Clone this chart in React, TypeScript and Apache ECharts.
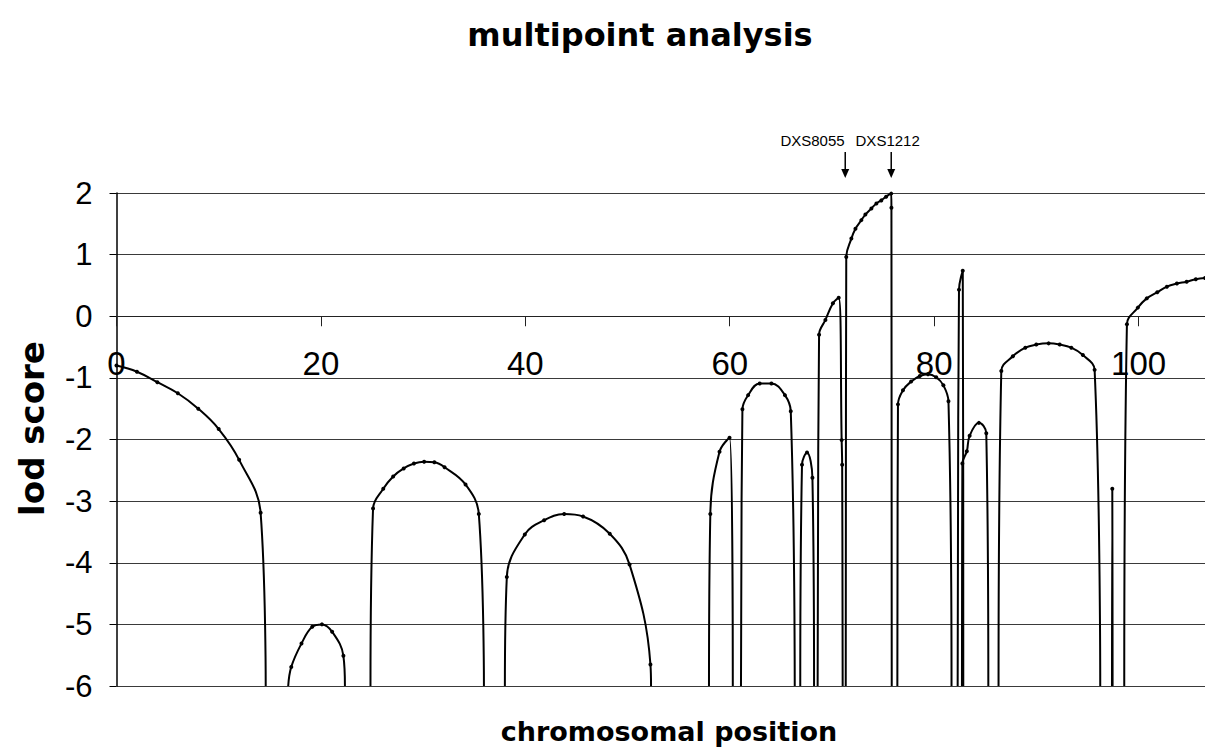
import React, { useEffect, useRef } from "react";
import * as echarts from "echarts";

// LOD of -infinity is drawn at the floor of the axis
const FLOOR = -6;

// chromosomal position (cM) / lod score, one list per continuous arc
const arc1 = [[0, -0.8], [2, -0.9], [4, -1.07], [6, -1.25], [8, -1.5], [10, -1.83], [12, -2.33], [14.1, -3.19], [14.6, FLOOR]];
const arc2 = [[16.8, FLOOR], [17.1, -5.69], [18.1, -5.31], [19.15, -5.04], [20.1, -5.0], [21.1, -5.12], [22.2, -5.51], [22.35, FLOOR]];
const arc3 = [[24.85, FLOOR], [25.1, -3.12], [26.1, -2.8], [27.07, -2.6], [28.1, -2.47], [29.1, -2.39], [30.1, -2.36], [31.1, -2.37], [32.1, -2.45], [34.15, -2.73], [35.45, -3.21], [35.95, FLOOR]];
const arc4 = [[38.0, FLOOR], [38.19, -4.23], [39.95, -3.54], [41.84, -3.31], [43.8, -3.21], [45.65, -3.25], [48.26, -3.53], [50.2, -4.03], [52.24, -5.65], [52.3, FLOOR]];
const arc5 = [[57.97, FLOOR], [58.1, -3.21], [59.0, -2.2], [59.98, -1.97], [60.3, FLOOR]];
const arc6 = [[61.1, FLOOR], [61.24, -1.51], [61.8, -1.28], [62.93, -1.09], [64.08, -1.09], [65.4, -1.28], [65.97, -1.54], [66.36, FLOOR]];
const arc7 = [[66.9, FLOOR], [67.07, -2.41], [67.56, -2.21], [68.09, -2.62], [68.25, FLOOR]];
const arc8 = [[68.6, FLOOR], [68.74, -0.3], [69.36, -0.06], [70.1, 0.21], [70.66, 0.3], [70.95, -2.01], [71.0, -2.41], [71.05, FLOOR]];
const arc9 = [[71.35, FLOOR], [71.4, 0.96], [71.9, 1.26], [72.3, 1.42], [72.88, 1.56], [73.27, 1.65], [73.86, 1.75], [74.35, 1.83], [74.83, 1.88], [75.3, 1.94], [75.8, 1.99], [75.82, 1.76], [75.85, FLOOR]];
const arc10 = [[76.4, FLOOR], [76.46, -1.43], [76.95, -1.2], [77.75, -1.06], [78.6, -0.97], [79.4, -0.94], [80.2, -0.99], [80.9, -1.12], [81.4, -1.38], [81.7, FLOOR]];
const arc11 = [[82.3, FLOOR], [82.43, 0.43], [82.8, 0.74], [82.85, FLOOR]];
const arc12 = [[82.72, FLOOR], [82.76, -2.39], [83.2, -2.19], [83.47, -1.94], [84.38, -1.73], [85.1, -1.9], [85.3, FLOOR]];
const arc13 = [[86.3, FLOOR], [86.57, -0.89], [87.7, -0.65], [88.92, -0.51], [89.99, -0.46], [91.2, -0.44], [92.28, -0.46], [93.42, -0.51], [94.55, -0.63], [95.7, -0.87], [96.25, FLOOR]];
const arc14 = [[97.4, FLOOR], [97.43, -2.8], [97.46, FLOOR]];
const arc15 = [[98.6, FLOOR], [98.86, -0.13], [99.93, 0.14], [100.8, 0.29], [101.83, 0.39], [102.77, 0.48], [103.75, 0.53], [104.7, 0.56], [105.6, 0.6], [106.5, 0.62]];

const arcs = [arc1, arc2, arc3, arc4, arc5, arc6, arc7, arc8, arc9, arc10, arc11, arc12, arc13, arc14, arc15];

// axis ranges / ticks
const X_MIN = 0;
const X_MAX = 106.5;
const X_STEP = 20;
const Y_MIN = -6;
const Y_MAX = 2;
const Y_STEP = 1;
const X_CROSS = 0; // the x axis crosses the y axis at lod 0

// annotated markers
const markerNames = ["DXS8055", "DXS1212"];
const markerPos = [71.3, 75.8];
const markerLabelPos = [68.1, 75.45];

const GRID = { left: 116.5, top: 193, right: 0, bottom: 69 };
const HEIGHT = 755;

export default function App() {
  const ref = useRef<HTMLDivElement>(null);

  useEffect(() => {
    if (!ref.current) return;
    const chart = echarts.init(ref.current, null, { renderer: "svg" });

    const gridH = HEIGHT - GRID.top - GRID.bottom;
    const crossOffset = -gridH * (X_CROSS - Y_MIN) / (Y_MAX - Y_MIN);

    const series = arcs.map((arc) => ({
      type: "line",
      data: arc.map((p) =>
        p[1] === FLOOR ? { value: p, symbol: "none" } : { value: p }
      ),
      smooth: 0.4,
      symbol: "circle",
      symbolSize: 4,
      showSymbol: true,
      clip: true,
      lineStyle: { color: "#000", width: 2 },
      itemStyle: { color: "#000" },
      emphasis: { disabled: true },
      z: 3,
    }));

    const option: any = {
      animation: false,
      backgroundColor: "#fff",
      title: [
        {
          text: "multipoint analysis",
          left: 635,
          top: 14,
          textAlign: "center",
          textStyle: {
            fontFamily: "DejaVu Sans",
            fontWeight: "bold",
            fontSize: 32,
            color: "#000",
          },
        },
        {
          text: "chromosomal position",
          left: 664,
          top: 713,
          textAlign: "center",
          textStyle: {
            fontFamily: "DejaVu Sans",
            fontWeight: "bold",
            fontSize: 27,
            color: "#000",
          },
        },
      ],
      grid: { ...GRID, containLabel: false },
      xAxis: {
        type: "value",
        min: X_MIN,
        max: X_MAX,
        interval: X_STEP,
        position: "bottom",
        offset: crossOffset,
        axisLine: { onZero: false, lineStyle: { color: "#222", width: 1 } },
        axisTick: { show: true, inside: false, length: 10, lineStyle: { color: "#222" } },
        axisLabel: {
          margin: 31,
          fontFamily: "Liberation Sans",
          fontSize: 33,
          color: "#000",
          showMaxLabel: false,
        },
        splitLine: { show: false },
      },
      yAxis: {
        type: "value",
        min: Y_MIN,
        max: Y_MAX,
        interval: Y_STEP,
        name: "lod score",
        nameLocation: "middle",
        nameRotate: 90,
        nameGap: 68,
        nameTextStyle: {
          fontFamily: "DejaVu Sans",
          fontWeight: "bold",
          fontSize: 34,
          color: "#000",
          padding: [0, 0, 0, 22],
        },
        axisLine: { show: true, onZero: false, lineStyle: { color: "#000", width: 1.5 } },
        axisTick: { show: true, inside: false, length: 7, lineStyle: { color: "#000" } },
        axisLabel: {
          margin: 24,
          fontFamily: "Liberation Sans",
          fontSize: 31,
          color: "#000",
        },
        splitLine: { show: true, lineStyle: { color: "#3a3a3a", width: 1 } },
      },
      series,
    };

    chart.setOption(option);

    const graphics: any[] = [];
    markerNames.forEach((name, i) => {
      const top = chart.convertToPixel({ xAxisIndex: 0, yAxisIndex: 0 }, [markerPos[i], Y_MAX]) as number[];
      const lab = chart.convertToPixel({ xAxisIndex: 0, yAxisIndex: 0 }, [markerLabelPos[i], Y_MAX]) as number[];
      const x = top[0];
      const tipY = top[1] - 15;
      graphics.push({
        type: "line",
        shape: { x1: x, y1: top[1] - 41, x2: x, y2: tipY - 6 },
        style: { stroke: "#000", lineWidth: 1.5 },
      });
      graphics.push({
        type: "polygon",
        shape: { points: [[x - 4, tipY - 9], [x + 4, tipY - 9], [x, tipY]] },
        style: { fill: "#000" },
      });
      graphics.push({
        type: "text",
        x: lab[0],
        y: top[1] - 53,
        style: {
          text: name,
          fontFamily: "Liberation Sans",
          fontSize: 15,
          fill: "#000",
          align: "center",
          verticalAlign: "middle",
        },
      });
    });
    chart.setOption({ graphic: graphics });

    return () => chart.dispose();
  }, []);

  return (
    <div
      ref={ref}
      style={{ position: "absolute", left: 0, top: 0, width: 1205, height: 755, background: "#fff" }}
    />
  );
}
